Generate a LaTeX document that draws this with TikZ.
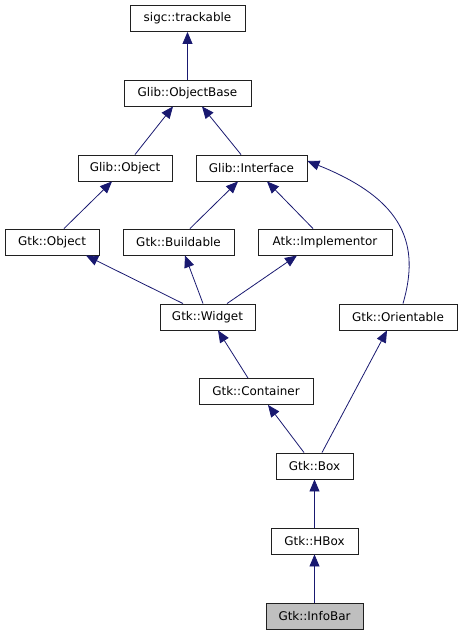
\documentclass[tikz,border=0pt]{standalone}
\usepackage{fontspec}
\setmainfont{DejaVu Sans}
\usetikzlibrary{arrows.meta}
\definecolor{edgeblue}{HTML}{191970}
\definecolor{infogray}{HTML}{BFBFBF}
\definecolor{boxline}{HTML}{202020}
\begin{document}
\begin{tikzpicture}[x=1bp,y=-1bp,
  cls/.style={draw=boxline, line width=0.9bp, fill=white, minimum height=26bp,
    inner sep=0pt, font=\fontsize{12}{14}\selectfont, text=black},
  edge/.style={draw=edgeblue, line width=0.8bp,
    -{Triangle[length=12bp,width=10bp]}}]
\useasboundingbox (0,0) rectangle (463,635);
\node[cls, minimum width=115bp] (st)  at (187.5,18.5) {sigc::trackable};
\node[cls, minimum width=127bp] (ob)  at (187.5,93) {Glib::ObjectBase};
\node[cls, minimum width=94bp]  (go)  at (125,168) {Glib::Object};
\node[cls, minimum width=111bp] (gi)  at (251.5,168) {Glib::Interface};
\node[cls, minimum width=94bp]  (to)  at (52,242) {Gtk::Object};
\node[cls, minimum width=111bp] (bu)  at (178.5,242) {Gtk::Buildable};
\node[cls, minimum width=134bp] (ai)  at (325,242) {Atk::Implementor};
\node[cls, minimum width=95bp]  (wi)  at (207.5,317) {Gtk::Widget};
\node[cls, minimum width=118bp] (or)  at (398,317) {Gtk::Orientable};
\node[cls, minimum width=114bp] (co)  at (256,391.5) {Gtk::Container};
\node[cls, minimum width=77bp]  (bx)  at (314.5,466) {Gtk::Box};
\node[cls, minimum width=87bp]  (hb)  at (314.5,541) {Gtk::HBox};
\node[cls, minimum width=97bp, fill=infogray] (ib) at (314.5,616) {Gtk::InfoBar};

\draw[edge] (ob.north) -- (st.south);
\draw[edge] ([xshift=10bp]go.north) -- ([xshift=-14.5bp]ob.south);
\draw[edge] ([xshift=-10.5bp]gi.north) -- ([xshift=14.5bp]ob.south);
\draw[edge] ([xshift=12bp]to.north) -- ([xshift=-13bp]go.south);
\draw[edge] ([xshift=11.5bp]bu.north) -- ([xshift=-13.5bp]gi.south);
\draw[edge] ([xshift=-12bp]ai.north) -- ([xshift=15.5bp]gi.south);
\draw[edge] ([xshift=5bp]or.north) .. controls (420,245) and (405,200) .. ([yshift=7bp]gi.east);
\draw[edge] ([xshift=-24.5bp]wi.north) -- ([xshift=34bp]to.south);
\draw[edge] ([xshift=-4.5bp]wi.north) -- ([xshift=6.5bp]bu.south);
\draw[edge] ([xshift=19.5bp]wi.north) -- ([xshift=-28bp]ai.south);
\draw[edge] ([xshift=-8bp]co.north) -- ([xshift=10.5bp]wi.south);
\draw[edge] ([xshift=-10.5bp]bx.north) -- ([xshift=12bp]co.south);
\draw[edge] ([xshift=7.5bp]bx.north) -- ([xshift=-11bp]or.south);
\draw[edge] (hb.north) -- (bx.south);
\draw[edge] (ib.north) -- (hb.south);
\end{tikzpicture}
\end{document}
